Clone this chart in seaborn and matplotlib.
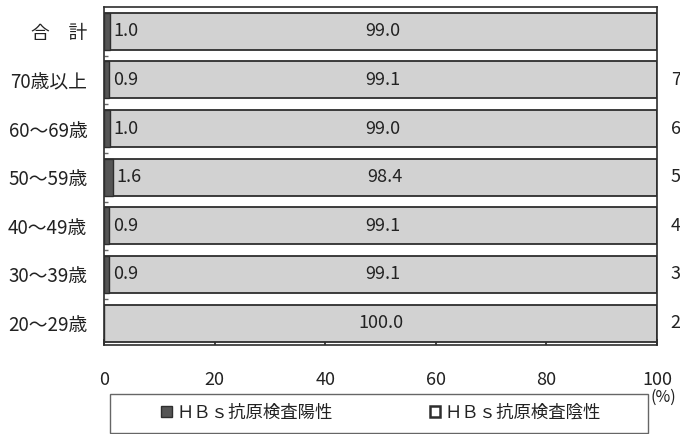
import matplotlib
matplotlib.use("Agg")
import matplotlib.pyplot as plt
import matplotlib.transforms as mtransforms
from matplotlib.patches import Patch, Rectangle
import seaborn as sns
import pandas as pd

# HBs antigen test results by age group (%)
groups = ["合　計", "70歳以上", "60～69歳", "50～59歳", "40～49歳", "30～39歳", "20～29歳"]
positive = [1.0, 0.9, 1.0, 1.6, 0.9, 0.9, 0.0]
negative = [99.0, 99.1, 99.0, 98.4, 99.1, 99.1, 100.0]
xticks = [0, 20, 40, 60, 80, 100]
legend_labels = ["ＨＢｓ抗原検査陽性", "ＨＢｓ抗原検査陰性"]
# first characters of the row labels of the next panel to the right
side_marks = ["", "7", "6", "5", "4", "3", "2"]

df = pd.DataFrame({"group": groups, "pos": positive, "neg": negative})
df["total"] = df["pos"] + df["neg"]

sns.set_theme(style="white")
plt.rcParams["font.family"] = ["Noto Sans CJK JP", "DejaVu Sans"]

light = "#d2d2d2"
dark = "#555555"
edge = "#2e2e2e"
txt = "#222222"

fig = plt.figure(figsize=(6.8, 4.34), dpi=100)
ax = fig.add_axes([104 / 680, 1 - 345 / 434, 553 / 680, 338 / 434])

# stacked bars: full bar in light grey, positive share overlaid in dark grey
sns.barplot(data=df, y="group", x="total", orient="h", color=light, saturation=1,
            edgecolor=edge, linewidth=1.3, width=0.76, ax=ax)
sns.barplot(data=df, y="group", x="pos", orient="h", color=dark, saturation=1,
            edgecolor=edge, linewidth=1.0, width=0.76, ax=ax)

ax.set_xlim(0, 100)
ax.set_ylim(6.45, -0.5)
ax.set_xlabel("")
ax.set_ylabel("")
ax.set_xticks(xticks)
ax.set_xticklabels([str(t) for t in xticks], fontsize=13, color=txt)
ax.set_yticks(range(len(groups)))
ax.set_yticklabels(groups, fontsize=13.5, color=txt)
ax.tick_params(axis="y", which="major", length=0, pad=12)
ax.tick_params(axis="x", which="major", direction="in", length=4, pad=19,
               color=edge, bottom=True)
ax.set_yticks([i + 0.5 for i in range(len(groups) - 1)], minor=True)
ax.tick_params(axis="y", which="minor", direction="in", length=3, left=True, color="#666666")

for s in ax.spines.values():
    s.set_visible(True)
    s.set_color(edge)
    s.set_linewidth(1.2)

# value labels
for i, (p, n) in enumerate(zip(positive, negative)):
    if p > 0:
        ax.text(p + 0.7, i, f"{p:.1f}", ha="left", va="center", fontsize=13, color=txt)
    ax.text(p + n / 2, i, f"{n:.1f}", ha="center", va="center", fontsize=13, color=txt)

trans = mtransforms.blended_transform_factory(ax.transAxes, ax.transData)
for i, m in enumerate(side_marks):
    if m:
        ax.text(1.025, i, m, transform=trans, ha="left", va="center",
                fontsize=13, color=txt, clip_on=False)

fig.text(651 / 680, 1 - 397 / 434, "(%)", fontsize=11.5, color=txt, ha="left", va="center")

# legend with its own frame
fig.add_artist(Rectangle((110 / 680, 1 - 433 / 434), 538 / 680, 39 / 434,
                         transform=fig.transFigure, fill=False,
                         edgecolor="#666666", linewidth=1.0))
handles = [Patch(facecolor=dark, edgecolor=edge, linewidth=1.0),
           Patch(facecolor="white", edgecolor=edge, linewidth=1.8)]
fig.legend(handles, legend_labels, loc="center",
           bbox_to_anchor=(381 / 680, 1 - 413 / 434), ncol=2, frameon=False,
           fontsize=12.5, handlelength=0.6, handleheight=0.6, handletextpad=0.25,
           columnspacing=5.6, labelcolor=txt)

fig.savefig("out.png", dpi=100)
